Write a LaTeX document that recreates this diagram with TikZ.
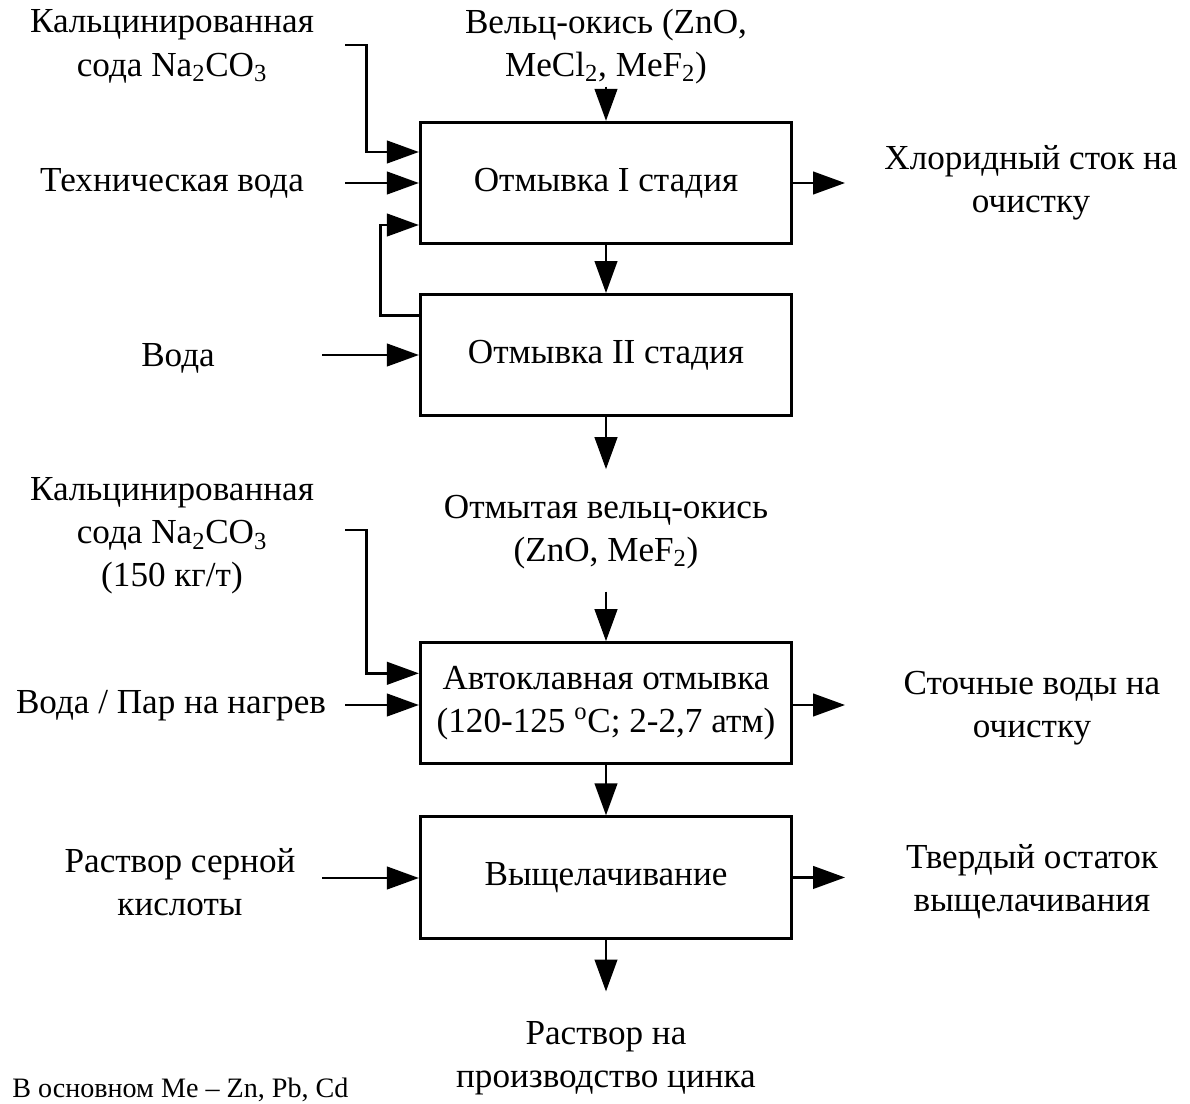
\documentclass[tikz,border=0pt]{standalone}
\usepackage{fontspec}
\setmainfont{Liberation Serif}
\usepackage{tikz}
\usetikzlibrary{arrows.meta,positioning,calc}

\begin{document}
\begin{tikzpicture}[
    stage/.style={rectangle, draw=black, line width=2.1pt, minimum width=9.28cm, minimum height=3.03cm, align=center, font=\fontsize{25}{30.6}\selectfont},
    lbl/.style={align=center, inner sep=1pt, font=\fontsize{25}{30.6}\selectfont},
    arr/.style={->, line width=2.1pt, >={Triangle[length=0.8cm, width=0.56cm]}},
    node distance=1.2cm
]
    \useasboundingbox (0,0) rectangle (29.75,-27.6);

    % Process stages, top to bottom
    \node[stage]                             (wash1)     at (15.15,-4.575) {Отмывка I стадия};
    \node[stage, below=of wash1]             (wash2)     {Отмывка II стадия};
    \node[stage, below=5.6cm of wash2]       (autoclave) {Автоклавная отмывка\\(120-125 \textsuperscript{o}C; 2-2,7 атм)};
    \node[stage, below=1.25cm of autoclave]  (leach)     {Выщелачивание};

    % Inputs and outputs
    \node[lbl] (sodaTop)   at (4.3,-1.16)    {Кальцинированная\\сода Na\textsubscript{2}CO\textsubscript{3}};
    \node[lbl] (feed)      at (15.15,-1.16)  {Вельц-окись (ZnO,\\MeCl\textsubscript{2}, MeF\textsubscript{2})};
    \node[lbl] (techwater) at (4.3,-4.575)   {Техническая вода};
    \node[lbl] (chloride)  at (25.775,-4.575) {Хлоридный сток на\\очистку};
    \node[lbl] (water)     at (4.45,-8.95)   {Вода};
    \node[lbl] (washed)    at (15.15,-13.3)  {Отмытая вельц-окись\\(ZnO, MeF\textsubscript{2})};
    \node[lbl] (sodaBot)   at (4.3,-13.4)    {Кальцинированная\\сода Na\textsubscript{2}CO\textsubscript{3}\\(150 кг/т)};
    \node[lbl] (steam)     at (4.275,-17.65) {Вода / Пар на нагрев};
    \node[lbl] (sewage)    at (25.8,-17.7)   {Сточные воды на\\очистку};
    \node[lbl] (acid)      at (4.5,-22.05)   {Раствор серной\\кислоты};
    \node[lbl] (residue)   at (25.8,-22.05)  {Твердый остаток\\выщелачивания};
    \node[lbl] (solution)  at (15.15,-26.45) {Раствор на\\производство цинка};
    \node[font=\fontsize{20}{24}\selectfont, anchor=west, inner sep=0pt] (note) at (0.3,-27.25) {В основном Me -- Zn, Pb, Cd};

    % Free arrow ends
    \coordinate (feedIn)      at ([yshift=0.86cm]wash1.north);
    \coordinate (sodaTopIn)   at (8.625,-1.125);
    \coordinate (techIn)      at (8.625,-4.575);
    \coordinate (chlorideOut) at ([xshift=1.3cm]wash1.east);
    \coordinate (waterIn)     at (8.05,-8.875);
    \coordinate (wash2Out)    at ([yshift=-1.3cm]wash2.south);
    \coordinate (washedIn)    at ([yshift=1.24cm]autoclave.north);
    \coordinate (sodaBotIn)   at (8.625,-13.25);
    \coordinate (steamIn)     at (8.625,-17.625);
    \coordinate (sewageOut)   at ([xshift=1.3cm]autoclave.east);
    \coordinate (acidIn)      at (8.05,-21.95);
    \coordinate (residueOut)  at ([xshift=1.3cm]leach.east);
    \coordinate (solutionOut) at ([yshift=-1.3cm]leach.south);

    % Stage I
    \draw[arr] (feedIn) -- (wash1);
    \draw[arr] (sodaTopIn) -| ([xshift=-1.3cm, yshift=0.775cm]wash1.west) -- ([yshift=0.775cm]wash1.west);
    \draw[arr] (techIn) -- (techIn -| wash1.west);
    \draw[arr] (wash1) -- (chlorideOut);
    \draw[arr] (wash1) -- (wash2);

    % Stage II, with return to stage I
    \draw[arr] ([yshift=1cm]wash2.west) -- ++(-0.97,0) |- ([yshift=-1.05cm]wash1.west);
    \draw[arr] (waterIn) -- (waterIn -| wash2.west);
    \draw[arr] (wash2) -- (wash2Out);

    % Autoclave
    \draw[arr] (washedIn) -- (autoclave);
    \draw[arr] (sodaBotIn) -| ([xshift=-1.3cm, yshift=0.75cm]autoclave.west) -- ([yshift=0.75cm]autoclave.west);
    \draw[arr] (steamIn) -- (steamIn -| autoclave.west);
    \draw[arr] (autoclave.east |- steamIn) -- (sewageOut |- steamIn);
    \draw[arr] (autoclave) -- (leach);

    % Leaching
    \draw[arr] (acidIn) -- (acidIn -| leach.west);
    \draw[arr] (leach) -- (residueOut);
    \draw[arr] (leach) -- (solutionOut);

\end{tikzpicture}
\end{document}
